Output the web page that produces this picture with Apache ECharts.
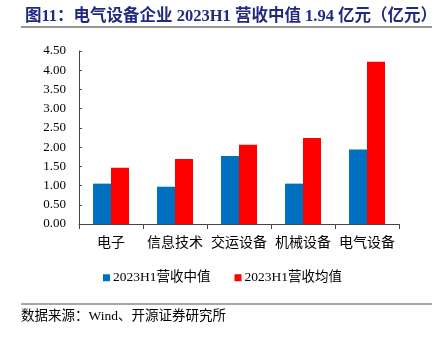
<!DOCTYPE html>
<html><head><meta charset="utf-8">
<script src="https://cdn.jsdelivr.net/npm/echarts@6/dist/echarts.min.js"></script>
<style>html,body{margin:0;padding:0;background:#fff}#c{width:439px;height:339px}</style>
</head><body><div id="c"></div>
<script>
var categories = ['电子', '信息技术', '交运设备', '机械设备', '电气设备'];
var medianValues = [1.05, 0.97, 1.77, 1.05, 1.94];
var meanValues = [1.46, 1.69, 2.06, 2.24, 4.22];
var seriesNames = ['2023H1营收中值', '2023H1营收均值'];
var titleText = '图11：电气设备企业 2023H1 营收中值 1.94 亿元（亿元）';
var sourceText = '数据来源：Wind、开源证券研究所';
var FONT = '"Liberation Serif", "Noto Sans CJK SC", serif';
var chart = echarts.init(document.getElementById('c'), null, {renderer: 'canvas'});
chart.setOption({
  animation: false,
  backgroundColor: '#fff',
  title: {
    text: titleText, left: 20, top: 3,
    textStyle: {fontFamily: FONT, fontSize: 16.5, fontWeight: 'bold', color: '#1f2a80'}
  },
  graphic: [
    {type: 'line', shape: {x1: 21, y1: 27, x2: 432, y2: 27}, style: {stroke: '#333', lineWidth: 1}},
    {type: 'line', shape: {x1: 21, y1: 304, x2: 432, y2: 304}, style: {stroke: '#888', lineWidth: 1.5}},
    {type: 'text', left: 21, top: 310, style: {text: sourceText, font: '13.5px ' + FONT, fill: '#000'}}
  ],
  legend: {
    top: 266, left: 98, itemWidth: 7, itemHeight: 7, itemGap: 24,
    icon: 'rect',
    textStyle: {fontFamily: FONT, fontSize: 13.5, color: '#000', padding: [0, 0, 0, -2]},
    data: seriesNames
  },
  grid: {left: 79, right: 40, top: 51, bottom: 115},
  xAxis: {
    type: 'category', data: categories,
    axisLine: {lineStyle: {color: '#444'}},
    axisTick: {show: true, inside: false, length: 5, lineStyle: {color: '#444'}},
    axisLabel: {fontFamily: FONT, fontSize: 14, color: '#000', margin: 12, interval: 0}
  },
  yAxis: {
    type: 'value', min: 0, max: 4.5, interval: 0.5,
    axisLine: {show: true, lineStyle: {color: '#444'}},
    axisTick: {show: true, inside: true, length: 3, lineStyle: {color: '#444'}},
    splitLine: {show: false},
    axisLabel: {fontFamily: FONT, fontSize: 13, color: '#000', margin: 13,
      formatter: function (v) { return v.toFixed(2); }}
  },
  series: [
    {name: seriesNames[0], type: 'bar', data: medianValues, barWidth: 18, barGap: '0%',
      itemStyle: {color: '#0070c0'}},
    {name: seriesNames[1], type: 'bar', data: meanValues, barWidth: 18, barGap: '0%',
      itemStyle: {color: '#ff0000'}}
  ]
});
</script></body></html>
